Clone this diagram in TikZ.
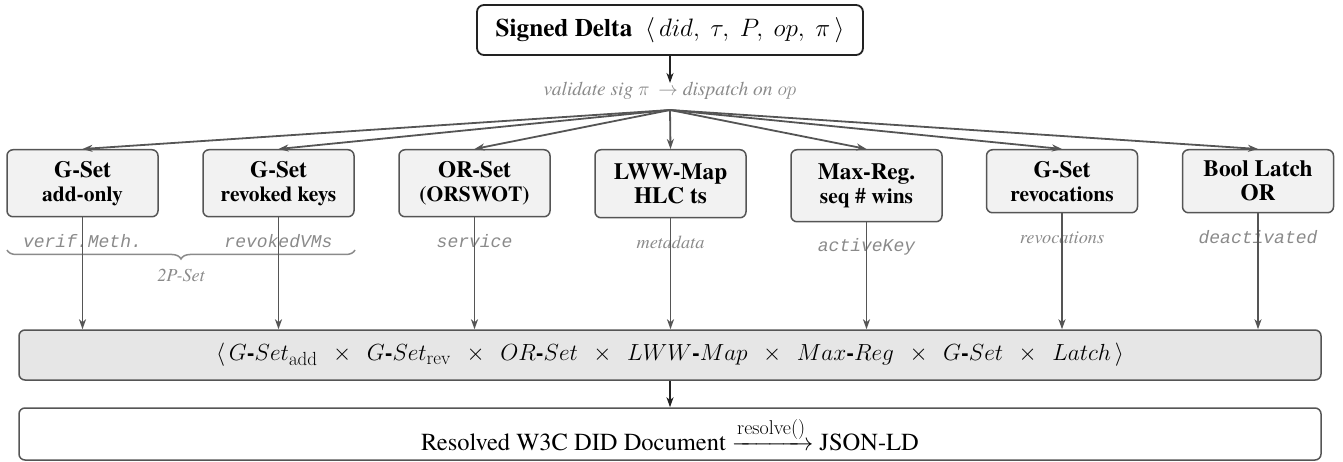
\RequirePackage{fix-cm}
\documentclass[tikz,border=0pt]{standalone}
\usepackage{amsmath}
\usepackage[no-math]{fontspec}
\setmainfont{texgyretermes}[Extension=.otf, UprightFont=*-regular, BoldFont=*-bold, ItalicFont=*-italic, BoldItalicFont=*-bolditalic]
\setmonofont{Liberation Mono}[ItalicFont={Liberation Mono Italic}]
\usetikzlibrary{arrows.meta,decorations.pathreplacing,calc}
\definecolor{edgegray}{HTML}{555555}
\definecolor{boxfill}{HTML}{F2F2F2}
\definecolor{barfill}{HTML}{E6E6E6}
\definecolor{labelgray}{HTML}{8A8A8A}
\definecolor{darkline}{HTML}{222222}
\newcommand{\subfnt}{\fontsize{21.5}{24}\selectfont}
\newcommand{\hy}{\text{\textbf{-}}}
\newcommand{\tms}{\mkern8mu\times\mkern8mu}
\newcommand{\sbs}[1]{\mbox{\fontsize{19}{20}\selectfont$\mathrm{#1}$}}
\begin{document}
\begin{tikzpicture}[x=1pt,y=-1pt,
  rowbox/.style={draw=edgegray, fill=boxfill, rounded corners=6pt, line width=1.5pt,
    minimum width=151pt, anchor=north, align=center, inner sep=0pt,
    font=\fontsize{23.3}{24}\selectfont\bfseries},
  monolbl/.style={text=labelgray, anchor=base, inner sep=0pt, font=\fontsize{18}{20}\selectfont\ttfamily\itshape},
  seriflbl/.style={text=labelgray, anchor=base, inner sep=0pt, font=\fontsize{18.3}{20}\selectfont\itshape},
  fanarrow/.style={draw=edgegray, line width=1.8pt, -{Stealth[length=10pt,width=7pt,inset=3pt]}},
  blackarrow/.style={draw=darkline, line width=1.8pt, -{Stealth[length=10pt,width=7pt,inset=3pt]}},
  bigbox/.style={rounded corners=6pt, line width=1.5pt, minimum width=1302pt, inner sep=0pt}
]
\useasboundingbox (0,0) rectangle (1343,462);

% top
\node[draw=darkline, fill=white, rounded corners=7pt, line width=1.8pt, minimum width=386pt, minimum height=50pt, inner sep=0pt,
  font=\fontsize{25.2}{28}\selectfont] (top) at (670,30)
  {\textbf{Signed Delta}\ \ $\langle\, did,\ \tau,\ P,\ op,\ \pi\,\rangle$};
\coordinate (vend) at (670,83);
\draw[blackarrow] (top.south) -- (vend);
\node[text=labelgray, font=\fontsize{19.5}{22}\selectfont\itshape] (val) at (670,91)
  {validate sig $\pi\,\rightarrow$ dispatch on $op$};
\coordinate (fan) at (670,110);

% row boxes
\node[rowbox, minimum height=67pt] (b1) at (82.5,149) {G-Set\\{\subfnt add-only}};
\node[rowbox, minimum height=67pt] (b2) at (278.5,149) {G-Set\\{\subfnt revoked keys}};
\node[rowbox, minimum height=67pt] (b3) at (474.5,149) {OR-Set\\{\subfnt (ORSWOT)}};
\node[rowbox, minimum height=68pt] (b4) at (670.5,149) {LWW-Map\\HLC ts};
\node[rowbox, minimum height=72pt] (b5) at (866.5,149) {Max-Reg.\\{\subfnt seq \# wins}};
\node[rowbox, minimum height=63pt] (b6) at (1062,149) {G-Set\\{\subfnt revocations}};
\node[rowbox, minimum height=63pt] (b7) at (1258,149) {Bool Latch\\OR};

\foreach \b in {b1,b2,b3,b4,b5,b6,b7} {\draw[fanarrow] (fan) -- (\b.north);}

% labels
\node[monolbl] (l1) at ($(b1.south)+(0,30)$) {verif.Meth.};
\node[monolbl] (l2) at ($(b2.south)+(0,30)$) {revokedVMs};
\node[monolbl] (l3) at ($(b3.south)+(0,30)$) {service};
\node[seriflbl] (l4) at ($(b4.south)+(0,30)$) {metadata};
\node[monolbl] (l5) at ($(b5.south)+(0,29)$) {activeKey};
\node[seriflbl] (l6) at ($(b6.south)+(0,30)$) {revocations};
\node[monolbl] (l7) at ($(b7.south)+(0,30)$) {deactivated};

% brace
\coordinate (brL) at (7,250);
\coordinate (brR) at (355,250);
\draw[draw=labelgray, line width=1.5pt, decorate, decoration={brace, mirror, amplitude=9pt}] (brL) -- (brR);
\node[seriflbl, anchor=center] (tp) at (181,275) {2P-Set};

% bar
\node[bigbox, draw=edgegray, fill=barfill, minimum height=50pt, font=\fontsize{23.3}{26}\selectfont] (bar) at (670,355)
  {$\langle\, G\hy Set_{\sbs{add}} \tms G\hy Set_{\sbs{rev}} \tms OR\hy Set \tms LWW\hy Map \tms Max\hy Reg \tms G\hy Set \tms Latch\,\rangle$};

\foreach \b in {b1,b2,b3,b4,b5,b6,b7} {\draw[fanarrow] (\b.south) -- (\b.south |- bar.north);}

% bottom
\node[bigbox, draw=edgegray, fill=white, minimum height=52pt, font=\fontsize{24.5}{27}\selectfont] (res) at (670,434)
  {Resolved W3C DID Document $\xrightarrow{\mbox{\fontsize{20}{22}\selectfont$\mathrm{resolve()}$}}$ JSON-LD};
\draw[blackarrow] (bar.south) -- (res.north);
\end{tikzpicture}
\end{document}
